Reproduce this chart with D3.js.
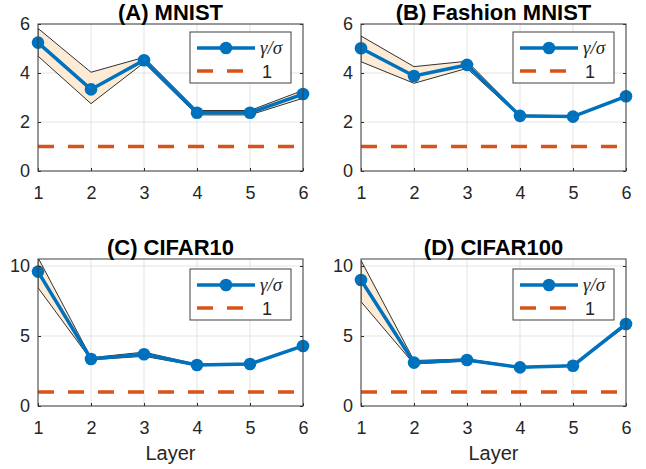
<!DOCTYPE html>
<html>
<head>
<meta charset="utf-8">
<script src="https://cdn.jsdelivr.net/npm/d3@7"></script>
<style>
  body { margin: 0; background: #fff; }
  svg { font-family: "Liberation Sans", Arial, sans-serif; }
  .tick text { fill: #262626; font-size: 18px; }
  .tick line { stroke: #262626; }
  .domain { display: none; }
</style>
</head>
<body>
<svg id="chart" width="646" height="469"></svg>
<script>
// layers on the x axis
var layers = [1, 2, 3, 4, 5, 6];

// (A) MNIST
var mnistMean  = [5.24, 3.33, 4.52, 2.38, 2.38, 3.14];
var mnistUpper = [5.82, 4.03, 4.64, 2.47, 2.47, 3.29];
var mnistLower = [4.69, 2.75, 4.42, 2.29, 2.29, 2.97];

// (B) Fashion MNIST
var fashionMean  = [5.01, 3.88, 4.33, 2.25, 2.22, 3.05];
var fashionUpper = [5.51, 4.26, 4.48, 2.29, 2.25, 3.08];
var fashionLower = [4.46, 3.58, 4.19, 2.21, 2.19, 3.02];

// (C) CIFAR10
var cifar10Mean  = [9.6, 3.36, 3.7, 2.93, 3.0, 4.29];
var cifar10Upper = [10.6, 3.45, 3.85, 2.98, 3.04, 4.33];
var cifar10Lower = [8.45, 3.3, 3.55, 2.88, 2.96, 4.25];

// (D) CIFAR100
var cifar100Mean  = [9.0, 3.1, 3.29, 2.76, 2.88, 5.86];
var cifar100Upper = [10.4, 3.25, 3.36, 2.8, 2.92, 5.96];
var cifar100Lower = [7.45, 3.0, 3.22, 2.72, 2.84, 5.72];

var baseline = 1;
var smallTicks = [0, 2, 4, 6];
var bigTicks = [0, 5, 10];

var blue = "#0072BD";
var orange = "#D95319";

var svg = d3.select("#chart");

function drawPanel(opts) {
  var g = svg.append("g")
    .attr("transform", "translate(" + opts.left + "," + opts.top + ")");
  var w = 265, h = 147;

  var x = d3.scaleLinear().domain([1, 6]).range([0, w]);
  var y = d3.scaleLinear().domain(opts.yDomain).range([h, 0]);

  var clipId = "clip-" + opts.id;
  g.append("clipPath").attr("id", clipId)
    .append("rect").attr("width", w).attr("height", h);

  // grid
  g.append("g").selectAll("line.gx").data(layers).enter()
    .append("line")
    .attr("x1", function(d) { return x(d); }).attr("x2", function(d) { return x(d); })
    .attr("y1", 0).attr("y2", h)
    .attr("stroke", "#e3e3e3");
  g.append("g").selectAll("line.gy").data(opts.ticks).enter()
    .append("line")
    .attr("x1", 0).attr("x2", w)
    .attr("y1", function(d) { return y(d); }).attr("y2", function(d) { return y(d); })
    .attr("stroke", "#e3e3e3");

  var plot = g.append("g").attr("clip-path", "url(#" + clipId + ")");

  // shaded band
  var area = d3.area()
    .x(function(d, i) { return x(layers[i]); })
    .y0(function(d, i) { return y(opts.lower[i]); })
    .y1(function(d) { return y(d); });
  plot.append("path")
    .datum(opts.upper)
    .attr("d", area)
    .attr("fill", "#fdebd5")
    .attr("stroke", "#1a1a1a")
    .attr("stroke-width", 0.9);

  // dashed line at 1
  plot.append("line")
    .attr("x1", x(1)).attr("x2", x(6))
    .attr("y1", y(baseline)).attr("y2", y(baseline))
    .attr("stroke", orange)
    .attr("stroke-width", 3.3)
    .attr("stroke-dasharray", "16,14");

  var line = d3.line()
    .x(function(d, i) { return x(layers[i]); })
    .y(function(d) { return y(d); });
  g.append("path")
    .datum(opts.mean)
    .attr("d", line)
    .attr("fill", "none")
    .attr("stroke", blue)
    .attr("stroke-width", 3.5);
  g.selectAll("circle.pt").data(opts.mean).enter()
    .append("circle")
    .attr("cx", function(d, i) { return x(layers[i]); })
    .attr("cy", function(d) { return y(d); })
    .attr("r", 6.3)
    .attr("fill", blue);

  // axes
  g.append("g")
    .attr("transform", "translate(0," + h + ")")
    .call(d3.axisBottom(x).tickValues(layers).tickFormat(d3.format("d"))
      .tickSizeInner(-3).tickSizeOuter(0).tickPadding(15));
  g.append("g")
    .call(d3.axisLeft(y).tickValues(opts.ticks).tickFormat(d3.format("d"))
      .tickSizeInner(-3).tickSizeOuter(0).tickPadding(8));
  g.append("g")
    .attr("transform", "translate(" + w + ",0)")
    .call(d3.axisRight(y).tickValues(opts.ticks).tickFormat("")
      .tickSizeInner(-3).tickSizeOuter(0));
  g.append("rect")
    .attr("width", w).attr("height", h)
    .attr("fill", "none")
    .attr("stroke", "#404040")
    .attr("stroke-width", 1);

  // title
  g.append("text")
    .attr("x", w / 2).attr("y", -4)
    .attr("text-anchor", "middle")
    .attr("font-weight", "bold")
    .attr("font-size", "22px")
    .attr("fill", "#000")
    .text(opts.title);

  if (opts.xlabel) {
    g.append("text")
      .attr("x", w / 2).attr("y", h + 54)
      .attr("text-anchor", "middle")
      .attr("font-size", "20px")
      .attr("fill", "#262626")
      .text("Layer");
  }

  // legend
  var lg = g.append("g").attr("transform", "translate(" + (w - 113) + "," + opts.legendTop + ")");
  lg.append("rect")
    .attr("width", 101).attr("height", 51)
    .attr("fill", "#fff")
    .attr("stroke", "#404040");
  lg.append("line")
    .attr("x1", 7).attr("x2", 65).attr("y1", 16).attr("y2", 16)
    .attr("stroke", blue).attr("stroke-width", 3.5);
  lg.append("circle").attr("cx", 36).attr("cy", 16).attr("r", 6.3).attr("fill", blue);
  lg.append("text")
    .attr("x", 70).attr("y", 22)
    .attr("font-family", "'Liberation Serif', serif")
    .attr("font-style", "italic")
    .attr("font-size", "19px")
    .attr("fill", "#262626")
    .text("\u03b3/\u03c3");
  lg.append("line")
    .attr("x1", 7).attr("x2", 65).attr("y1", 39).attr("y2", 39)
    .attr("stroke", orange).attr("stroke-width", 3.3)
    .attr("stroke-dasharray", "16,14");
  lg.append("text")
    .attr("x", 72).attr("y", 46)
    .attr("font-size", "18px")
    .attr("fill", "#262626")
    .text("1");
}

drawPanel({ id: "a", left: 38, top: 24, title: "(A) MNIST", yDomain: [0, 6], ticks: smallTicks,
  mean: mnistMean, upper: mnistUpper, lower: mnistLower, legendTop: 8 });
drawPanel({ id: "b", left: 361, top: 24, title: "(B) Fashion MNIST", yDomain: [0, 6], ticks: smallTicks,
  mean: fashionMean, upper: fashionUpper, lower: fashionLower, legendTop: 8 });
drawPanel({ id: "c", left: 38, top: 259, title: "(C) CIFAR10", yDomain: [0, 10.5], ticks: bigTicks,
  mean: cifar10Mean, upper: cifar10Upper, lower: cifar10Lower, legendTop: 10, xlabel: true });
drawPanel({ id: "d", left: 361, top: 259, title: "(D) CIFAR100", yDomain: [0, 10.5], ticks: bigTicks,
  mean: cifar100Mean, upper: cifar100Upper, lower: cifar100Lower, legendTop: 10, xlabel: true });
</script>
</body>
</html>
